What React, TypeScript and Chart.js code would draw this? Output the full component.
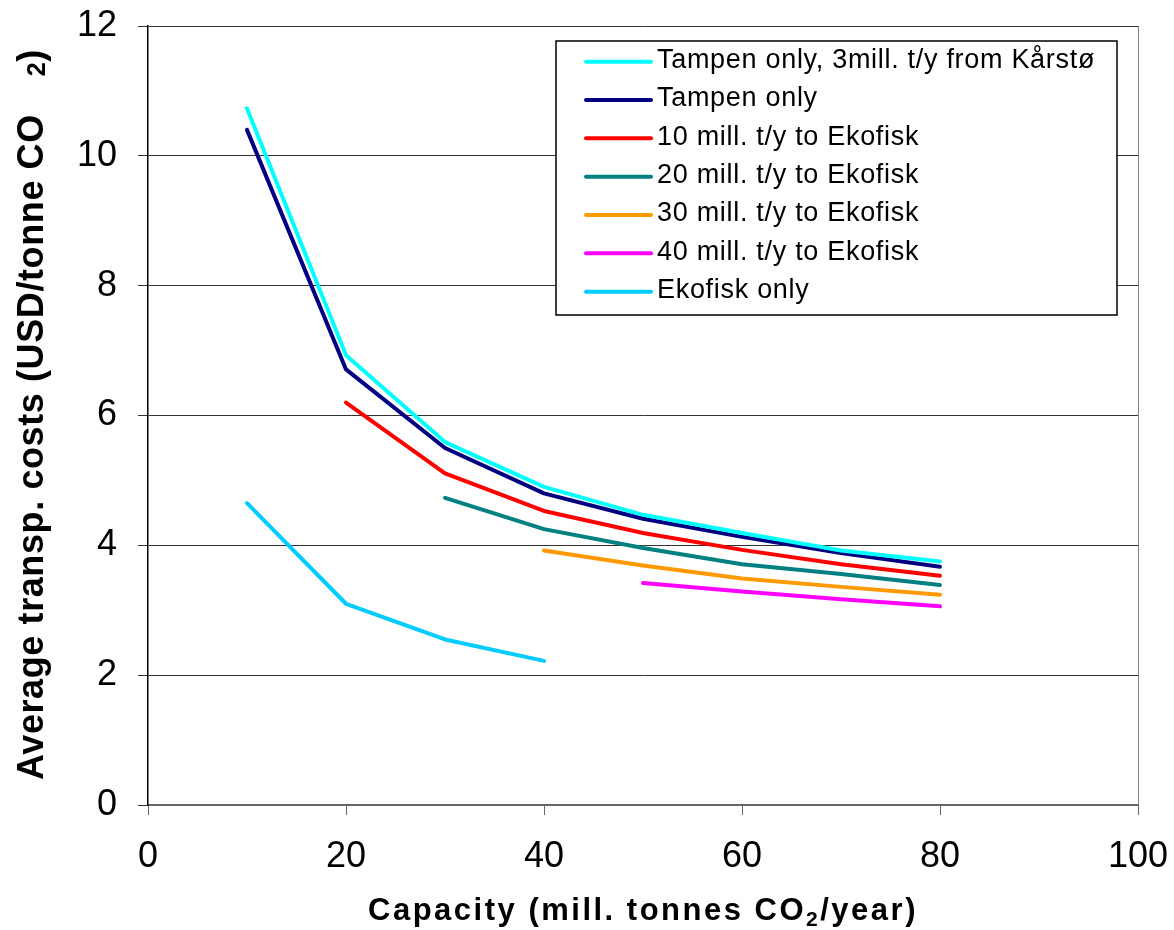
import React, { useEffect, useRef } from "react";
import { Chart, registerables } from "chart.js";

Chart.register(...registerables);

// Capacity values (mill. tonnes CO2/year) at which costs were computed
const capacity = [10, 20, 30, 40, 50, 60, 70, 80];

// Average transport costs (USD/tonne CO2) per scenario
const tampenKarsto = [10.73, 6.93, 5.59, 4.9, 4.47, 4.19, 3.92, 3.75];
const tampenOnly = [10.4, 6.71, 5.5, 4.8, 4.41, 4.13, 3.88, 3.67];
const ekofisk10 = [null, 6.2, 5.11, 4.53, 4.19, 3.93, 3.71, 3.53];
const ekofisk20 = [null, null, 4.73, 4.25, 3.96, 3.71, 3.56, 3.39];
const ekofisk30 = [null, null, null, 3.92, 3.69, 3.49, 3.36, 3.24];
const ekofisk40 = [null, null, null, null, 3.42, 3.29, 3.17, 3.06];
const ekofiskOnly = [4.65, 3.1, 2.55, 2.22, null, null, null, null];

const seriesLabels = [
  "Tampen only, 3mill. t/y from Kårstø",
  "Tampen only",
  "10 mill. t/y to Ekofisk",
  "20 mill. t/y to Ekofisk",
  "30 mill. t/y to Ekofisk",
  "40 mill. t/y to Ekofisk",
  "Ekofisk only",
];
const seriesColors = ["#00FFFF", "#000080", "#FF0000", "#008080", "#FF9900", "#FF00FF", "#00CCFF"];
const seriesValues = [tampenKarsto, tampenOnly, ekofisk10, ekofisk20, ekofisk30, ekofisk40, ekofiskOnly];

const xTicks = [0, 20, 40, 60, 80, 100];
const yTicks = [0, 2, 4, 6, 8, 10, 12];

const FONT = "'Liberation Sans', Arial, Helvetica, sans-serif";

type Part = { text: string; size: number; dy?: number; gapBefore?: number };

function partsWidth(ctx: CanvasRenderingContext2D, parts: Part[], weight: string) {
  let w = 0;
  for (const p of parts) {
    ctx.font = `${weight} ${p.size}px ${FONT}`;
    w += (p.gapBefore || 0) + ctx.measureText(p.text).width;
  }
  return w;
}

function drawParts(ctx: CanvasRenderingContext2D, parts: Part[], weight: string, x0: number) {
  let x = x0;
  for (const p of parts) {
    x += p.gapBefore || 0;
    ctx.font = `${weight} ${p.size}px ${FONT}`;
    ctx.fillText(p.text, x, p.dy || 0);
    x += ctx.measureText(p.text).width;
  }
}

const decorations = {
  id: "decorations",
  afterDraw(chart: any) {
    const ctx: CanvasRenderingContext2D = chart.ctx;
    const area = chart.chartArea;
    ctx.save();

    // right frame of the plot area
    ctx.strokeStyle = "#808080";
    ctx.lineWidth = 1;
    ctx.beginPath();
    ctx.moveTo(area.right + 0.5, area.top);
    ctx.lineTo(area.right + 0.5, area.bottom);
    ctx.stroke();

    ctx.fillStyle = "#000";
    ctx.textBaseline = "alphabetic";
    ctx.textAlign = "left";

    // x-axis title with subscript
    (ctx as any).letterSpacing = "2.5px";
    const xParts: Part[] = [
      { text: "Capacity (mill. tonnes CO", size: 31 },
      { text: "2", size: 21, dy: 6 },
      { text: "/year)", size: 31 },
    ];
    ctx.save();
    const xw = partsWidth(ctx, xParts, "bold");
    ctx.translate((area.left + area.right) / 2 - xw / 2, 920);
    drawParts(ctx, xParts, "bold", 0);
    ctx.restore();

    // y-axis title, rotated, with a spaced subscript
    (ctx as any).letterSpacing = "0.6px";
    const yParts: Part[] = [
      { text: "Average transp. costs (USD/tonne CO", size: 36 },
      { text: "2", size: 25, dy: 2, gapBefore: 38 },
      { text: ")", size: 36 },
    ];
    ctx.save();
    ctx.translate(43, 780);
    ctx.rotate(-Math.PI / 2);
    drawParts(ctx, yParts, "bold", 0);
    ctx.restore();

    // legend box inside the plot
    const box = { l: 556, t: 41, r: 1117, b: 315 };
    ctx.fillStyle = "#fff";
    ctx.fillRect(box.l, box.t, box.r - box.l, box.b - box.t);
    ctx.strokeStyle = "#000";
    ctx.lineWidth = 1.5;
    ctx.strokeRect(box.l, box.t, box.r - box.l, box.b - box.t);

    (ctx as any).letterSpacing = "0.7px";
    ctx.font = `27px ${FONT}`;
    ctx.textBaseline = "middle";
    chart.data.datasets.forEach((ds: any, i: number) => {
      const y = 61.7 + i * 38.33;
      ctx.strokeStyle = ds.borderColor;
      ctx.lineWidth = 4;
      ctx.lineCap = "round";
      ctx.beginPath();
      ctx.moveTo(586, y);
      ctx.lineTo(651, y);
      ctx.stroke();
      ctx.fillStyle = "#000";
      ctx.fillText(ds.label, 657, y - 1);
    });

    ctx.restore();
  },
};

export default function App() {
  const canvasRef = useRef<HTMLCanvasElement | null>(null);

  useEffect(() => {
    document.body.style.margin = "0";
    const canvas = canvasRef.current;
    if (!canvas) return;

    const datasets = seriesLabels.map((label, i) => ({
      label,
      data: capacity
        .map((c, j) => ({ x: c, y: seriesValues[i][j] }))
        .filter((p) => p.y !== null),
      borderColor: seriesColors[i],
      backgroundColor: seriesColors[i],
      borderWidth: 4,
      pointRadius: 0,
      borderCapStyle: "round" as const,
      borderJoinStyle: "round" as const,
      tension: 0,
      fill: false,
    }));

    const chart = new Chart(canvas, {
      type: "line",
      data: { datasets },
      options: {
        animation: false,
        responsive: false,
        layout: { padding: { left: 0, right: 36, top: 26, bottom: 0 } },
        plugins: {
          legend: { display: false },
          tooltip: { enabled: false },
        },
        scales: {
          x: {
            type: "linear",
            min: 0,
            max: 100,
            afterBuildTicks: (scale: any) => {
              scale.ticks = xTicks.map((v) => ({ value: v }));
            },
            afterFit: (scale: any) => {
              scale.height = 125;
              scale.paddingLeft = 0;
              scale.paddingRight = 0;
            },
            ticks: {
              color: "#000",
              font: { family: FONT, size: 36 },
              padding: 20,
              maxRotation: 0,
            },
            grid: {
              drawOnChartArea: false,
              drawTicks: true,
              tickLength: 10,
              color: "#666",
            },
            border: { color: "#666", width: 2 },
          },
          y: {
            type: "linear",
            min: 0,
            max: 12,
            afterBuildTicks: (scale: any) => {
              scale.ticks = yTicks.map((v) => ({ value: v }));
            },
            afterFit: (scale: any) => {
              scale.width = 148;
              scale.paddingTop = 0;
              scale.paddingBottom = 0;
            },
            ticks: {
              color: "#000",
              font: { family: FONT, size: 36 },
              padding: 21,
            },
            grid: {
              drawOnChartArea: true,
              drawTicks: true,
              tickLength: 10,
              color: "#333",
              lineWidth: 1,
            },
            border: { color: "#000", width: 1.5 },
          },
        },
      },
      plugins: [decorations],
    });

    return () => chart.destroy();
  }, []);

  return (
    <div style={{ width: 1174, height: 930, background: "#fff" }}>
      <canvas ref={canvasRef} width={1174} height={930} style={{ display: "block" }} />
    </div>
  );
}
